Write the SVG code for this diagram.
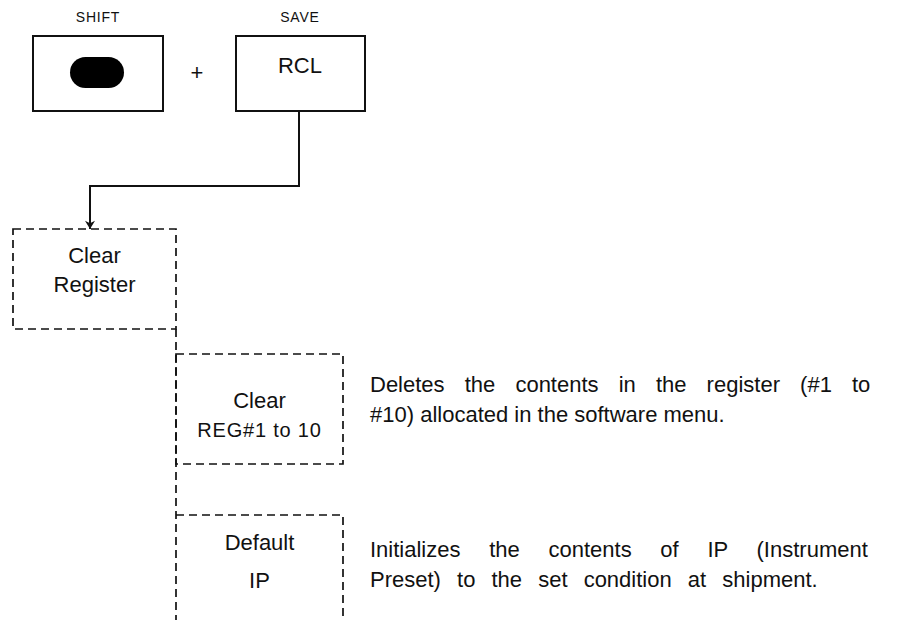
<svg xmlns="http://www.w3.org/2000/svg" width="901" height="620" viewBox="0 0 901 620">
<defs>
<style>
text{font-family:"Liberation Sans",Arial,sans-serif;fill:#111;}
.lbl{font-size:14px;text-anchor:middle;letter-spacing:0.8px;}
.key{font-size:22px;text-anchor:middle;}
.box{font-size:22px;text-anchor:middle;}
.sm{font-size:20px;text-anchor:middle;letter-spacing:0.8px;}
.desc{font-size:22px;}
.solid{fill:#fff;stroke:#111;stroke-width:2;}
.dash{fill:none;stroke:#111;stroke-width:1.7;stroke-dasharray:8 5;}
.conn{fill:none;stroke:#111;stroke-width:2;}
</style>
<marker id="arr" viewBox="0 0 10 12" refX="10" refY="6" markerWidth="12" markerHeight="10" markerUnits="userSpaceOnUse" orient="auto">
<path d="M0,0 L10,6 L0,12 L3,6 Z" fill="#111"/>
</marker>
</defs>
<g id="connectors">
<path class="conn" d="M299,111 V186 H90 V229" marker-end="url(#arr)"/>
<path class="dash" d="M176,329 V620"/>
</g>
<g id="shift-key">
<text class="lbl" x="98" y="22">SHIFT</text>
<rect class="solid" x="33" y="36" width="130" height="75"/>
<rect x="70" y="57" width="54" height="31" rx="15.5" ry="15.5" fill="#000"/>
</g>
<text class="key" x="197" y="80">+</text>
<g id="rcl-key">
<text class="lbl" x="300" y="22">SAVE</text>
<rect class="solid" x="236" y="36" width="129" height="75"/>
<text class="key" x="300" y="73">RCL</text>
</g>
<g id="clear-register">
<rect class="dash" x="13" y="229" width="163" height="100"/>
<text class="box" x="94.5" y="263">Clear</text>
<text class="box" x="94.5" y="292">Register</text>
</g>
<g id="clear-reg">
<rect class="dash" x="176" y="354" width="167" height="110"/>
<text class="box" x="259.5" y="408">Clear</text>
<text class="sm" x="259.5" y="437">REG#1 to 10</text>
<text class="desc" x="370" y="392" word-spacing="14">Deletes the contents in the register (#1 to</text>
<text class="desc" x="370" y="422">#10) allocated in the software menu.</text>
</g>
<g id="default-ip">
<path class="dash" d="M176,515 H343 V620"/>
<text class="box" x="259.5" y="550">Default</text>
<text class="box" x="259.5" y="588">IP</text>
<text class="desc" x="370" y="557" word-spacing="22.6">Initializes the contents of IP (Instrument</text>
<text class="desc" x="370" y="587" word-spacing="10">Preset) to the set condition at shipment.</text>
</g>
</svg>
